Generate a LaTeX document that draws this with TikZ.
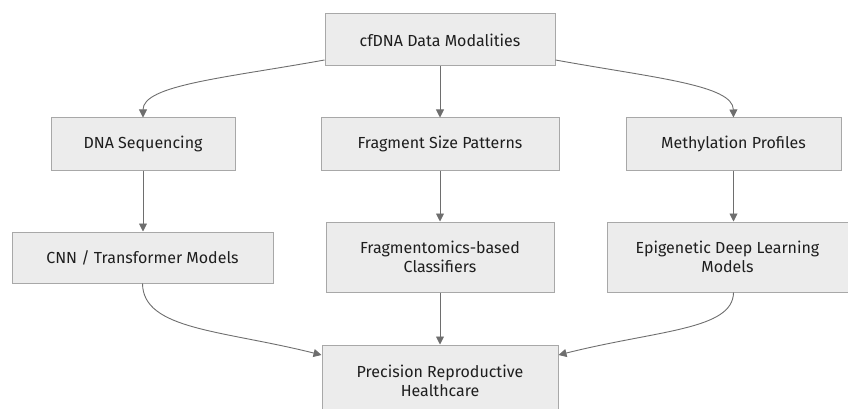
\documentclass[tikz,border=0pt]{standalone}
\usepackage{fontspec}
\setmainfont{Fira Sans}
\usetikzlibrary{arrows.meta}
\definecolor{boxfill}{HTML}{ECECEC}
\definecolor{boxline}{HTML}{A8A8A8}
\definecolor{edge}{HTML}{6E6E6E}
\definecolor{txt}{HTML}{1E1E1E}
\begin{document}
\begin{tikzpicture}[x=1pt,y=-1pt,
  box/.style={draw=boxline,fill=boxfill,line width=1pt,inner sep=0pt,
    font=\fontsize{16}{19}\selectfont,text=txt,align=center},
  conn/.style={draw=edge,line width=0.9pt,-{Triangle[length=8pt,width=8pt]}}]
\useasboundingbox (0,0) rectangle (848,409);
\node[box,minimum width=230pt,minimum height=52pt] (top) at (440,40) {cfDNA Data Modalities};
\node[box,minimum width=184pt,minimum height=52pt] (dna) at (143,144) {DNA Sequencing};
\node[box,minimum width=238pt,minimum height=52pt] (frag) at (440,144) {Fragment Size Patterns};
\node[box,minimum width=215pt,minimum height=52pt] (meth) at (733.5,144) {Methylation Profiles};
\node[box,minimum width=261pt,minimum height=51pt] (cnn) at (142.5,257.5) {CNN / Transformer Models};
\node[box,minimum width=228pt,minimum height=70pt] (fc) at (440,257) {Fragmentomics-based\\Classifiers};
\node[box,minimum width=241pt,minimum height=70pt] (epi) at (727.5,257) {Epigenetic Deep Learning\\Models};
\node[box,minimum width=236pt,minimum height=72pt] (prc) at (440,381) {Precision Reproductive\\Healthcare};
\coordinate (tl) at (top.west |- 0,60);
\coordinate (tr) at (top.east |- 0,60);
\draw[conn] (tl) .. controls (225,78) and (143,85) .. (dna.north);
\draw[conn] (tr) .. controls (655,78) and (733,85) .. (meth.north);
\draw[conn] (top.south) -- (frag.north);
\draw[conn] (dna.south) -- (cnn.north -| dna.south);
\draw[conn] (frag.south) -- (fc.north);
\draw[conn] (meth.south) -- (meth.south |- epi.north);
\coordinate (pl) at (prc.west |- 0,355);
\coordinate (pr) at (prc.east |- 0,355);
\draw[conn] (cnn.south) .. controls (143,330) and (222,330) .. (pl);
\draw[conn] (meth.south |- epi.south) .. controls (733,330) and (658,330) .. (pr);
\draw[conn] (fc.south) -- (prc.north);
\end{tikzpicture}
\end{document}
